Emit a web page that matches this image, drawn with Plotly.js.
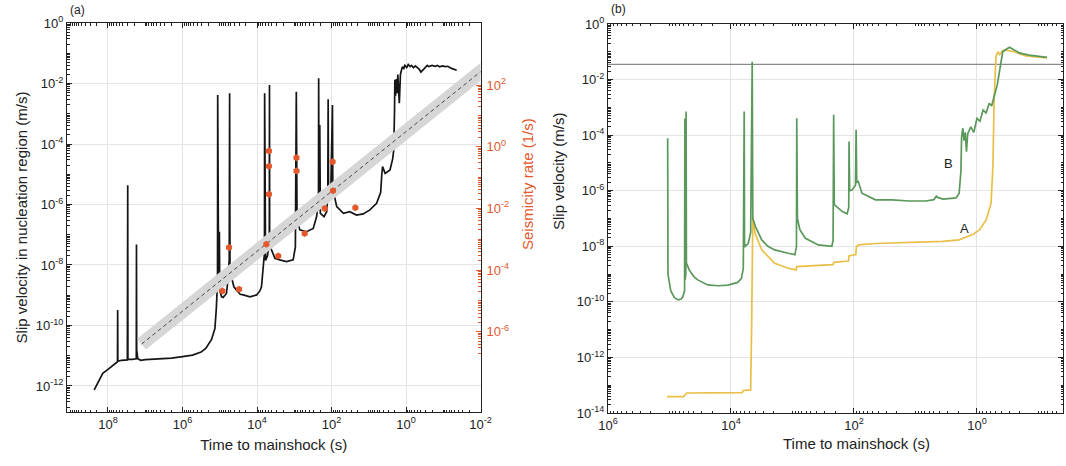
<!DOCTYPE html>
<html><head><meta charset="utf-8">
<script src="https://cdn.plot.ly/plotly-3.0.1.min.js"></script>
<style>html,body{margin:0;padding:0;background:#fff}#chart{width:1066px;height:466px}</style>
</head><body><div id="chart"></div>
<script>
// ---------- Panel (a): slip velocity in nucleation region (log10 values) ----------
const aLogTime = [
  8.37, 8.25, 8.14, 8.0, 7.85, 7.76, 7.745, 7.74, 7.735, 7.63,
  7.48, 7.47, 7.465, 7.35, 7.24, 7.235, 7.23, 7.2, 7.12, 7.0,
  6.5, 6.29, 6.0, 5.73, 5.5, 5.37, 5.22, 5.13, 5.09, 5.06,
  5.055, 5.05, 5.03, 5.01, 5.0, 4.95, 4.91, 4.86, 4.82, 4.78,
  4.745, 4.735, 4.725, 4.69, 4.62, 4.55, 4.45, 4.37, 4.19, 4.01,
  3.92, 3.88, 3.84, 3.80, 3.795, 3.79, 3.78, 3.77, 3.72, 3.67,
  3.665, 3.66, 3.61, 3.52, 3.39, 3.21, 3.03, 2.97, 2.945, 2.935,
  2.925, 2.85, 2.67, 2.49, 2.40, 2.35, 2.345, 2.335, 2.315, 2.30,
  2.2, 2.13, 2.10, 2.09, 2.08, 2.02, 1.975, 1.965, 1.94, 1.86,
  1.68, 1.51, 1.33, 1.15, 0.97, 0.79, 0.68, 0.65, 0.63, 0.56,
  0.47, 0.43, 0.36, 0.33, 0.31, 0.30, 0.28, 0.26, 0.24, 0.22,
  0.18, 0.15, 0.10, 0.06, 0.03, -0.02, -0.06, -0.11, -0.15, -0.2,
  -0.25, -0.3, -0.35, -0.4, -0.43, -0.47, -0.52, -0.57, -0.61, -0.7,
  -0.78, -0.85, -0.9, -0.98, -1.05, -1.12, -1.22, -1.3, -1.36
];
const aLogVel = [
  -12.13, -11.85, -11.58, -11.45, -11.3, -11.22, -11.2, -9.49, -11.18, -11.15,
  -11.14, -5.36, -11.12, -11.12, -11.1, -7.32, -10.8, -11.1, -11.15, -11.13,
  -11.1, -11.08, -11.03, -10.98, -10.88, -10.75, -10.46, -10.1, -9.4, -8.5,
  -2.38, -8.3, -8.83, -6.9, -8.85, -9.05, -9.07, -9.0, -8.94, -8.5,
  -7.8, -2.32, -8.0, -8.39, -8.72, -8.83, -8.97, -8.99, -9.05, -8.99,
  -8.85, -8.72, -8.06, -7.6, -2.32, -7.83, -3.76, -7.85, -7.7, -7.3,
  -2.05, -7.4, -7.5, -7.78, -7.83, -7.89, -7.83, -7.4, -2.27, -5.4,
  -6.5, -6.84, -6.9, -6.79, -6.4, -5.9, -1.83, -6.2, -3.37, -6.29,
  -6.4, -6.24, -5.7, -2.52, -5.6, -5.63, -2.71, -5.6, -5.63, -6.07,
  -6.29, -6.24, -6.35, -6.31, -6.18, -5.96, -5.6, -5.0, -4.75, -4.97,
  -4.9, -4.86, -4.5, -4.2, -3.0, -1.88, -2.4, -1.85, -2.32, -1.7,
  -2.65, -1.7, -1.45, -1.5, -1.40, -1.47, -1.37, -1.44, -1.40, -1.48,
  -1.42, -1.47, -1.52, -1.62, -1.58, -1.50, -1.45, -1.40, -1.44, -1.40,
  -1.43, -1.40, -1.45, -1.42, -1.44, -1.43, -1.5, -1.52, -1.56
];
// Seismicity rate observations (log10 time, log10 rate 1/s)
const rateLogTime  = [4.93, 4.75, 4.48, 3.75, 3.68, 3.68, 3.68, 3.43, 2.94, 2.94, 2.72, 2.18, 1.97, 1.96, 1.36];
const rateLogValue = [-4.68, -3.27, -4.62, -3.16, -0.14, -0.63, -1.54, -3.54, -0.36, -0.79, -2.81, -2.0, -0.49, -1.43, -1.98];
// Fitted rate trend (log10 time, log10 rate)
const fitLogTime = [7.1, -2.3];
const fitLogRate = [-6.40, 2.72];

// ---------- Panel (b): slip velocity at points B (green) and A (yellow) ----------
const bLogTime = [
  5.03, 5.025, 4.98, 4.92, 4.86, 4.81, 4.78, 4.755, 4.75, 4.745,
  4.735, 4.73, 4.725, 4.68, 4.6, 4.54, 4.38, 4.21, 4.05, 3.89,
  3.83, 3.80, 3.785, 3.78, 3.77, 3.72, 3.68, 3.655, 3.645, 3.6,
  3.5, 3.4, 3.29, 3.07, 2.96, 2.935, 2.93, 2.92, 2.88, 2.79,
  2.58, 2.36, 2.34, 2.33, 2.32, 2.19, 2.11, 2.085, 2.08, 2.07,
  2.03, 1.975, 1.965, 1.955, 1.93, 1.87, 1.65, 1.38, 1.10, 0.83,
  0.70, 0.66, 0.63, 0.55, 0.34, 0.29, 0.26, 0.25, 0.23, 0.21,
  0.19, 0.17, 0.15, 0.10, 0.05, 0.0, -0.05, -0.1, -0.15, -0.2,
  -0.24, -0.28, -0.33, -0.36, -0.39, -0.42, -0.47, -0.53, -0.6, -0.7,
  -0.85, -1.0, -1.14
];
const bLogVel = [
  -4.11, -9.0, -9.6, -9.85, -9.93, -9.9, -9.8, -9.6, -3.4, -9.2,
  -9.0, -3.15, -8.6, -8.85, -9.1, -9.21, -9.39, -9.42, -9.4, -9.3,
  -9.15, -8.8, -3.15, -7.9, -8.0, -7.9, -7.5, -1.36, -7.0, -7.3,
  -7.77, -8.0, -8.13, -8.25, -8.3, -8.0, -3.39, -7.0, -7.4, -7.71,
  -7.95, -8.0, -7.8, -3.27, -6.5, -6.75, -6.83, -6.6, -4.23, -6.0,
  -5.97, -5.8, -3.81, -5.7, -5.67, -6.09, -6.33, -6.33, -6.37, -6.37,
  -6.32, -6.2, -6.25, -6.3, -6.26, -6.1, -5.3, -4.1, -3.75, -4.2,
  -3.9, -4.6, -3.95, -3.7, -3.9, -3.4, -3.5, -3.1, -3.2, -2.85,
  -2.95, -2.6, -2.2, -1.8, -1.3, -1.0, -0.92, -0.84, -0.93, -1.05,
  -1.12, -1.17, -1.2
];
const aPtLogTime = [
  5.04, 4.77, 4.72, 3.82, 3.80, 3.68, 3.665, 3.655, 3.645, 3.61,
  3.50, 3.29, 3.07, 2.94, 2.93, 2.5, 2.34, 2.33, 2.09, 2.08,
  1.97, 1.96, 1.92, 1.65, 1.10, 0.56, 0.29, 0.07, -0.04, -0.15,
  -0.23, -0.26, -0.28, -0.31, -0.34, -0.37, -0.42, -0.5, -0.6, -0.8,
  -1.14
];
const aPtLogVel = [
  -13.41, -13.41, -13.28, -13.27, -13.19, -13.17, -11.0, -7.8, -6.95, -7.53,
  -8.13, -8.61, -8.79, -8.85, -8.73, -8.68, -8.66, -8.58, -8.53, -8.35,
  -8.3, -8.0, -7.95, -7.9, -7.86, -7.82, -7.77, -7.58, -7.41, -7.05,
  -6.45, -5.13, -2.73, -1.18, -1.0, -1.1, -0.95, -0.95, -1.0, -1.15,
  -1.22
];
const thresholdVel = 0.035;          // horizontal reference line (m/s)
const thresholdTime = [1e7, 1e-3];

// tick labels
const aVelTickExp  = [-12, -10, -8, -6, -4, -2, 0];
const aTimeTickExp = [8, 6, 4, 2, 0, -2];
const rateTickExp  = [-6, -4, -2, 0, 2];
const bVelTickExp  = [-14, -12, -10, -8, -6, -4, -2, 0];
const bTimeTickExp = [6, 4, 2, 0];

const p10 = v => Math.pow(10, v);
const sup = e => '10<sup>' + e + '</sup>';
function minorVals(lo, hi) {
  const out = [];
  for (let n = Math.floor(lo) - 1; n <= Math.ceil(hi); n++)
    for (let k = 1; k <= 9; k++) {
      const lx = n + Math.log10(k);
      if (lx >= lo && lx <= hi) out.push(k * Math.pow(10, n));
    }
  return out;
}

const RED = '#e2592d';
const INK = '#222';
const FONT = '"Liberation Sans", Arial, Helvetica, sans-serif';

const traces = [
  { // fit band
    x: fitLogTime.map(p10), y: fitLogRate.map(p10), xaxis: 'x', yaxis: 'y2',
    mode: 'lines', line: {color: '#d6d6d6', width: 14}, hoverinfo: 'skip', showlegend: false
  },
  { // fit trend
    x: fitLogTime.map(p10), y: fitLogRate.map(p10), xaxis: 'x', yaxis: 'y2',
    mode: 'lines', line: {color: '#4a4a4a', width: 1, dash: '4px,3px'}, showlegend: false
  },
  { // slip velocity (a)
    x: aLogTime.map(p10), y: aLogVel.map(p10), xaxis: 'x', yaxis: 'y',
    mode: 'lines', line: {color: '#151515', width: 1.7}, showlegend: false
  },
  { // seismicity rate
    x: rateLogTime.map(p10), y: rateLogValue.map(p10), xaxis: 'x', yaxis: 'y2',
    mode: 'markers', marker: {color: RED, size: 7, symbol: 'hexagon'}, showlegend: false
  },
  { // threshold line (b)
    x: thresholdTime, y: [thresholdVel, thresholdVel], xaxis: 'x2', yaxis: 'y3',
    mode: 'lines', line: {color: '#8a8a8a', width: 1.2}, showlegend: false
  },
  { // A (yellow)
    x: aPtLogTime.map(p10), y: aPtLogVel.map(p10), xaxis: 'x2', yaxis: 'y3',
    mode: 'lines', line: {color: '#e9bf47', width: 1.7}, showlegend: false
  },
  { // B (green)
    x: bLogTime.map(p10), y: bLogVel.map(p10), xaxis: 'x2', yaxis: 'y3',
    mode: 'lines', line: {color: '#5b985b', width: 1.7}, showlegend: false
  }
];

const baseAxis = {
  type: 'log', showline: true, linecolor: INK, linewidth: 1,
  ticks: 'inside', ticklen: 5, tickwidth: 1, tickcolor: INK,
  showgrid: true, gridcolor: '#e4e4e4', gridwidth: 1, zeroline: false,
  tickmode: 'array', automargin: false, fixedrange: true,
  tickfont: {family: FONT, size: 13, color: INK}
};
const minorAx = (lo, hi, color) => ({
  ticks: 'inside', ticklen: 2.5, tickwidth: 1, tickcolor: color || INK,
  tickmode: 'array', tickvals: minorVals(lo, hi), showgrid: false
});

const layout = {
  width: 1066, height: 466,
  margin: {l: 67, r: 3, t: 23, b: 53},
  paper_bgcolor: '#fff', plot_bgcolor: 'rgba(0,0,0,0)',
  font: {family: FONT, size: 12, color: INK},
  showlegend: false,
  xaxis: Object.assign({}, baseAxis, {
    domain: [0, 0.4152], anchor: 'y', range: [9.1, -2], mirror: 'ticks',
    tickvals: aTimeTickExp.map(p10), ticktext: aTimeTickExp.map(sup),
    minor: minorAx(-2, 9.1),
    title: {text: 'Time to mainshock (s)', font: {family: FONT, size: 15, color: INK}, standoff: 8}
  }),
  yaxis: Object.assign({}, baseAxis, {
    domain: [0.00256, 1], anchor: 'x', range: [-12.86, 0], mirror: true,
    tickvals: aVelTickExp.map(p10), ticktext: aVelTickExp.map(sup),
    minor: minorAx(-12.86, 0),
    title: {text: 'Slip velocity in nucleation region (m/s)', font: {family: FONT, size: 15, color: INK}, standoff: 4}
  }),
  yaxis2: Object.assign({}, baseAxis, {
    overlaying: 'y', side: 'right', anchor: 'x', range: [-8.6, 4.01],
    showline: false, showgrid: false, tickcolor: RED,
    tickvals: rateTickExp.map(p10), ticktext: rateTickExp.map(sup),
    tickfont: {family: FONT, size: 13, color: RED},
    ticklabelstandoff: 5,
    minor: minorAx(-6.7, 2.15, RED)
  }),
  xaxis2: Object.assign({}, baseAxis, {
    domain: [0.5432, 1], anchor: 'y3', range: [6, -1.40], mirror: 'ticks',
    tickvals: bTimeTickExp.map(p10), ticktext: bTimeTickExp.map(sup),
    minor: minorAx(-1.4, 6)
  }),
  yaxis3: Object.assign({}, baseAxis, {
    domain: [0, 0.99744], anchor: 'x2', range: [-14, 0], mirror: 'ticks',
    tickvals: bVelTickExp.map(p10), ticktext: bVelTickExp.map(sup),
    minor: minorAx(-14, 0)
  }),
  annotations: [
    {text: '(a)', xref: 'paper', yref: 'paper', x: 0.001, y: 1.034, xanchor: 'left', yanchor: 'middle', showarrow: false, font: {size: 12, color: INK}},
    {text: '(b)', xref: 'paper', yref: 'paper', x: 0.5445, y: 1.036, xanchor: 'left', yanchor: 'middle', showarrow: false, font: {size: 12, color: INK}},
    {text: 'Seismicity rate (1/s)', xref: 'paper', yref: 'paper', x: (527 - 67) / 996, y: (413 - 184) / 390, textangle: -90, xanchor: 'center', yanchor: 'middle', showarrow: false, font: {size: 15, color: RED}},
    {text: 'Slip velocity (m/s)', xref: 'paper', yref: 'paper', x: (558 - 67) / 996, y: (413 - 171) / 390, textangle: -90, xanchor: 'center', yanchor: 'middle', showarrow: false, font: {size: 15, color: INK}},
    {text: 'Time to mainshock (s)', xref: 'paper', yref: 'paper', x: (856 - 67) / 996, y: (413 - 443) / 390, xanchor: 'center', yanchor: 'middle', showarrow: false, font: {size: 15, color: INK}},
    {text: 'B', xref: 'x2', yref: 'y3', x: 0.46, y: -5.01, showarrow: false, font: {size: 13, color: INK}},
    {text: 'A', xref: 'x2', yref: 'y3', x: 0.20, y: -7.35, showarrow: false, font: {size: 13, color: INK}}
  ]
};

Plotly.newPlot('chart', traces, layout, {displayModeBar: false, staticPlot: true});
</script>
</body></html>
